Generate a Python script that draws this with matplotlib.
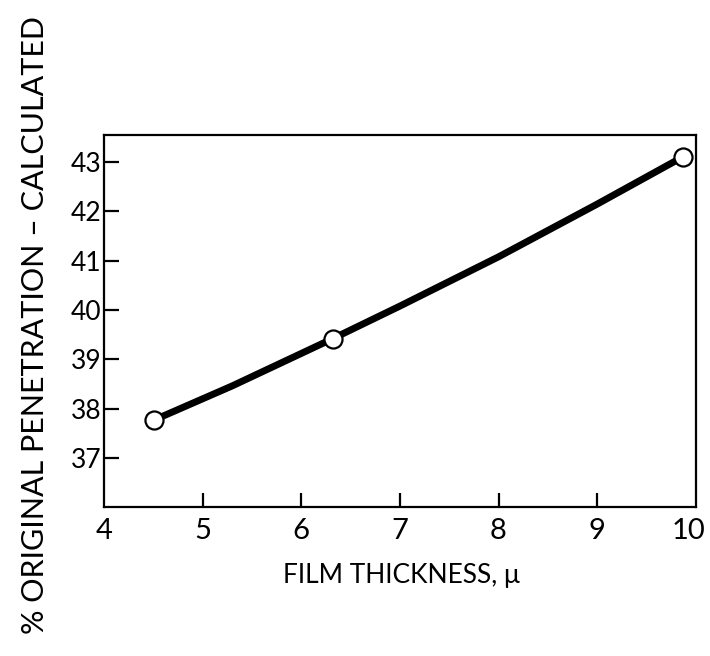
import numpy as np
import matplotlib
matplotlib.use("Agg")
import matplotlib.pyplot as plt
import matplotlib.transforms as mtransforms

plt.rcParams['font.family'] = ['Lato', 'DejaVu Sans']

# measured points (open circles)
thickness = [4.51, 6.32, 9.87]
penetration = [37.77, 39.42, 43.11]

# points
curve_x = [4.51, 5.3, 6.32, 7.0, 8.0, 9.0, 9.87]
curve_y = [37.77, 38.46, 39.42, 40.08, 41.08, 42.15, 43.11]

xticks = [4, 5, 6, 7, 8, 9, 10]
yticks = [37, 38, 39, 40, 41, 42, 43]

fig = plt.figure(figsize=(7.1, 6.56), dpi=100)
ax = fig.add_axes([0.1465, 0.227, 0.8335, 0.567])

ax.plot(curve_x, curve_y, color='black', lw=5, solid_capstyle='round', zorder=2)
ax.plot(thickness, penetration, 'o', ms=13, mfc='white', mec='black', mew=1.6, zorder=3)

ax.set_xlim(4, 10)
ax.set_ylim(36, 43.55)
ax.set_xticks(xticks)
ax.set_yticks(yticks)
ax.set_xticklabels([str(t) for t in xticks], fontsize=21)
ax.set_yticklabels([str(t) for t in yticks], fontsize=19)
ax.tick_params(axis='both', direction='in', width=1.6, color='black')
ax.tick_params(axis='y', length=11, pad=2)
ax.tick_params(axis='x', length=10, pad=8)
# hide tick marks at the ends, they sit on the frame
for t in (ax.xaxis.get_major_ticks()[0], ax.xaxis.get_major_ticks()[-1]):
    t.tick1line.set_visible(False)
# nudge "10" left a bit so it stays inside the picture
last = ax.get_xticklabels()[-1]
last.set_transform(last.get_transform() + mtransforms.ScaledTranslation(-5/72, 0, fig.dpi_scale_trans))

for s in ax.spines.values():
    s.set_linewidth(1.6)

fig.text(0.565, 0.123, 'FILM THICKNESS, μ', fontsize=19, ha='center', va='center')
fig.text(0.05, 0.505, '% ORIGINAL PENETRATION \u2013 CALCULATED', fontsize=22,
         rotation=90, ha='center', va='center')

fig.savefig('out.png', dpi=100)
